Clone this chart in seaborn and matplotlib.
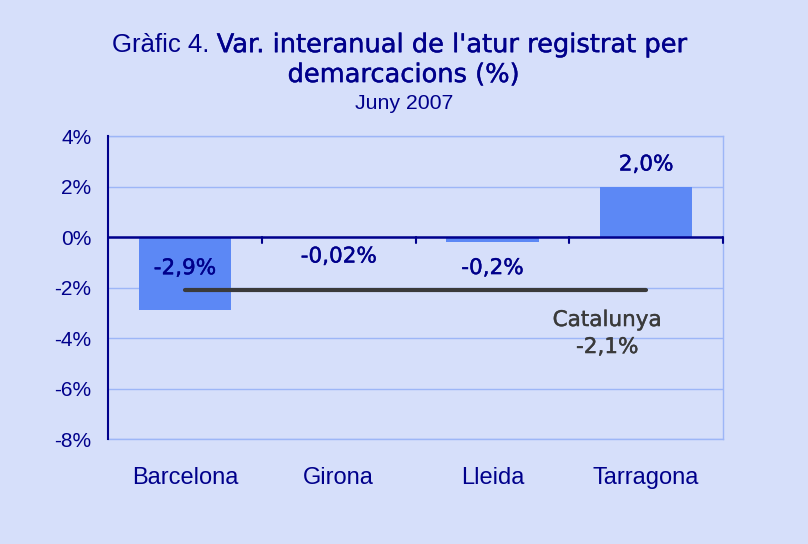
"""Gràfic 4 — variació interanual de l'atur registrat per demarcacions."""

import matplotlib

matplotlib.use("Agg")
import matplotlib.patheffects as pe
import matplotlib.pyplot as plt
import seaborn as sns

DEMARCACIONS = ["Barcelona", "Girona", "Lleida", "Tarragona"]
VARIACIO = [-2.9, -0.02, -0.2, 2.0]
ETIQUETES = ["-2,9%", "-0,02%", "-0,2%", "2,0%"]
CATALUNYA = -2.1
ETIQUETA_CAT = "-2,1%"
YTICKS = [-8, -6, -4, -2, 0, 2, 4]

FONS = "#D6DFFA"
BARRA = "#5C88F5"
BLAU_FOSC = "#00008B"
REIXETA = "#9DB6F7"
GRIS = "#3A3A3A"

# desplaçament vertical (px) de cada etiqueta respecte l'extrem de la barra
DESPL = [42, -19, -26, 22]


def gruix(color):
    return [pe.withStroke(linewidth=0.3, foreground=color)]


def main() -> None:
    sns.set_style("white")
    plt.rcParams["font.family"] = ["DejaVu Sans"]

    fig = plt.figure(figsize=(8.08, 5.44), dpi=100, facecolor=FONS)
    ax = fig.add_axes([0.1337, 0.193, 0.7611, 0.557])
    ax.set_facecolor(FONS)

    sns.barplot(x=DEMARCACIONS, y=VARIACIO, color=BARRA, saturation=1,
                width=0.6, linewidth=0, ax=ax, zorder=2)

    ax.set_xlim(-0.5, 3.5)
    ax.set_ylim(-8, 4)
    ax.set_yticks(YTICKS)
    ax.set_yticklabels([f"{t}%" for t in YTICKS])
    ax.yaxis.grid(True, color=REIXETA, lw=1)
    ax.set_axisbelow(True)

    for s in ["top", "bottom", "right"]:
        ax.spines[s].set_color(REIXETA)
        ax.spines[s].set_linewidth(1)
    ax.spines["left"].set_color(BLAU_FOSC)
    ax.spines["left"].set_linewidth(1.5)
    ax.spines["left"].set_zorder(5)
    ax.tick_params(axis="y", colors=BLAU_FOSC, labelsize=15, length=5,
                   width=1.5, direction="out", pad=7)
    ax.tick_params(axis="x", length=0, labelsize=17, labelcolor=BLAU_FOSC, pad=20)
    for lab in ax.get_xticklabels() + ax.get_yticklabels():
        lab.set_family("Liberation Sans")

    # eix del zero amb marques entre categories
    ax.axhline(0, color=BLAU_FOSC, lw=1.8, zorder=3)
    for i in range(len(DEMARCACIONS)):
        ax.plot([i + 0.5, i + 0.5], [0, -0.25], color=BLAU_FOSC, lw=1.5,
                zorder=3, clip_on=False)

    # Catalunya
    ax.plot([0, len(DEMARCACIONS) - 1], [CATALUNYA, CATALUNYA], color=GRIS,
            lw=3, solid_capstyle="round", zorder=4)
    ax.annotate("Catalunya", xy=(len(DEMARCACIONS) - 1, CATALUNYA),
                xytext=(-39, -30), textcoords="offset pixels", ha="center",
                va="center", fontsize=15.5, color=GRIS, path_effects=gruix(GRIS))
    ax.annotate(ETIQUETA_CAT, xy=(len(DEMARCACIONS) - 1, CATALUNYA),
                xytext=(-39, -57), textcoords="offset pixels", ha="center",
                va="center", fontsize=15.5, color=GRIS, path_effects=gruix(GRIS))

    for i, (v, txt) in enumerate(zip(VARIACIO, ETIQUETES)):
        ax.annotate(txt, xy=(i, v), xytext=(0, DESPL[i]),
                    textcoords="offset pixels", ha="center", va="center",
                    fontsize=15.5, color=BLAU_FOSC, zorder=5,
                    path_effects=gruix(BLAU_FOSC))

    # títol amb dues parts (normal + destacat)
    fig.canvas.draw()
    r = fig.canvas.get_renderer()
    t1 = fig.text(0, 0.917, "Gràfic 4. ", fontsize=18.5, color=BLAU_FOSC,
                  va="center", family="Liberation Sans")
    t2 = fig.text(0, 0.917, "Var. interanual de l'atur registrat per",
                  fontsize=18.5, color=BLAU_FOSC, va="center",
                  path_effects=gruix(BLAU_FOSC))
    w1 = t1.get_window_extent(r).width / fig.bbox.width
    w2 = t2.get_window_extent(r).width / fig.bbox.width
    x0 = 0.496 - (w1 + w2) / 2
    t1.set_x(x0)
    t2.set_x(x0 + w1)
    fig.text(0.5, 0.862, "demarcacions (%)", fontsize=18.5, color=BLAU_FOSC,
             ha="center", va="center", path_effects=gruix(BLAU_FOSC))
    fig.text(0.5, 0.809, "Juny 2007", fontsize=15.3, color=BLAU_FOSC,
             ha="center", va="center", family="Liberation Sans")

    fig.savefig("out.png", dpi=100, facecolor=FONS)
    plt.close(fig)


if __name__ == "__main__":
    main()
